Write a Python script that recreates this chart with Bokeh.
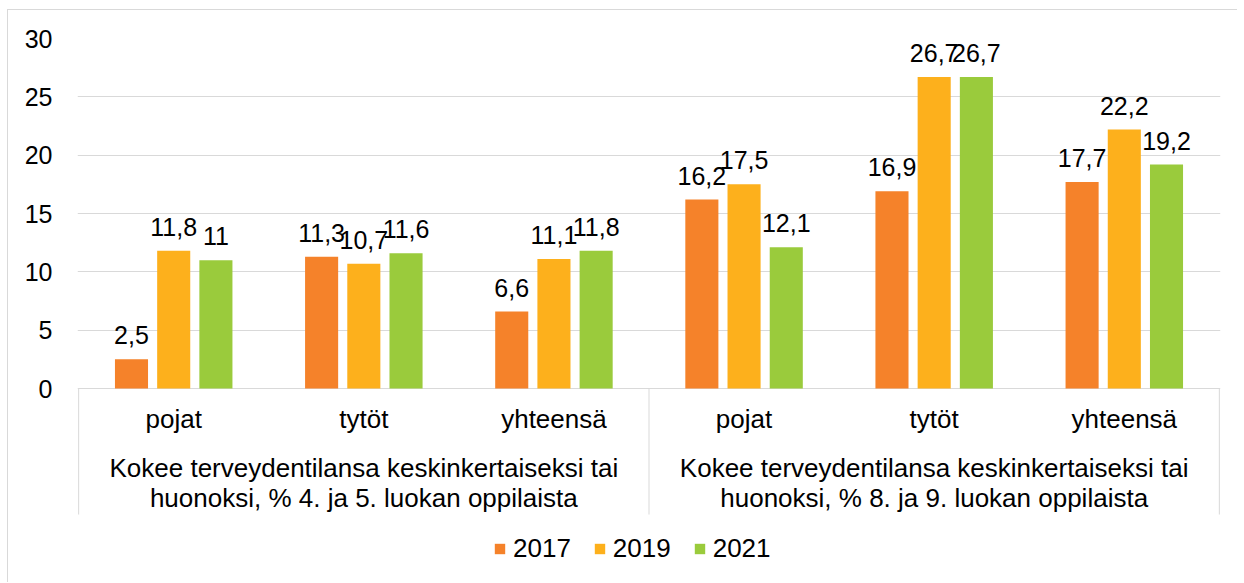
from bokeh.plotting import figure
from bokeh.models import (FactorRange, Range1d, FixedTicker, ColumnDataSource,
                          Legend, LegendItem)
from bokeh.transform import dodge
from bokeh.core.properties import value
from bokeh.embed import file_html
from bokeh.resources import INLINE

# ---------------- data ----------------
groups = ["4.-5. lk", "8.-9. lk"]
group_labels = [
    "Kokee terveydentilansa keskinkertaiseksi tai\nhuonoksi, % 4. ja 5. luokan oppilaista",
    "Kokee terveydentilansa keskinkertaiseksi tai\nhuonoksi, % 8. ja 9. luokan oppilaista",
]
subcats = ["pojat", "tytöt", "yhteensä"]
years = ["2017", "2019", "2021"]
v2017 = [2.5, 11.3, 6.6, 16.2, 16.9, 17.7]
v2019 = [11.8, 10.7, 11.1, 17.5, 26.7, 22.2]
v2021 = [11.0, 11.6, 11.8, 12.1, 26.7, 19.2]
y_ticks = [0, 5, 10, 15, 20, 25, 30]

# ---------------- style ----------------
colors = ["#F5822A", "#FDB01C", "#9ACB3C"]
FONT = "Liberation Sans"
FS_NUM = "25px"
FS_TXT = "26px"
GRID = "#d9d9d9"

def fmt(v):
    return f"{v:g}".replace(".", ",")

x_factors = [(g, s) for g in groups for s in subcats]

xr = FactorRange(factors=x_factors, factor_padding=0, group_padding=0,
                 subgroup_padding=0, range_padding=0.006,
                 range_padding_units="absolute")

p = figure(x_range=xr, y_range=Range1d(-16.71, 30), width=1230, height=573,
           output_backend="svg", toolbar_location=None, x_axis_location=None,
           min_border_left=69, min_border_top=28, min_border_right=18,
           min_border_bottom=0)
p.styles = {"margin-left": "7px", "margin-top": "9px",
            "border-top": "1px solid #d9d9d9", "border-left": "1px solid #d9d9d9"}

p.outline_line_color = None
p.xgrid.visible = False
p.ygrid.ticker = FixedTicker(ticks=y_ticks)
p.ygrid.grid_line_color = GRID
p.ygrid.grid_line_width = 1

ax = p.yaxis[0]
ax.ticker = FixedTicker(ticks=y_ticks)
ax.axis_line_color = None
ax.major_tick_line_color = None
ax.minor_tick_line_color = None
ax.major_tick_in = 0
ax.major_tick_out = 0
ax.major_label_standoff = 25
ax.major_label_text_font = FONT
ax.major_label_text_font_size = FS_NUM
ax.major_label_text_color = "black"

series = [v2017, v2019, v2021]
step = 0.222
bw = 0.174
renderers = []
for i, (yr, vals, c) in enumerate(zip(years, series, colors)):
    src = ColumnDataSource(dict(x=x_factors, top=vals, label=[fmt(v) for v in vals]))
    off = (i - 1) * step
    r = p.vbar(x=dodge("x", off, range=p.x_range), top="top", bottom=0, width=bw,
               source=src, fill_color=c, line_color=None)
    renderers.append(r)
    p.text(x=dodge("x", off, range=p.x_range), y="top", text="label", source=src,
           text_align="center", text_baseline="alphabetic", y_offset=-24,
           text_font=value(FONT), text_font_size=FS_NUM, text_color="black")

# category box separators
nsub = len(subcats)
sep_x = [k * nsub for k in range(len(groups) + 1)]
p.segment(x0=sep_x, y0=[0] * len(sep_x), x1=sep_x, y1=[-10.8] * len(sep_x),
          line_color=GRID, line_width=1)

# sub-category labels
p.text(x=x_factors, y=[-2.6] * len(x_factors), text=[s for g in groups for s in subcats],
       text_align="center", text_baseline="alphabetic",
       text_font=value(FONT), text_font_size=FS_TXT, text_color="black")

# group labels (two lines)
gx, gy, gt = [], [], []
for g, lab in zip(groups, group_labels):
    for j, line in enumerate(lab.split("\n")):
        gx.append(g)
        gy.append(-6.77 - j * 2.6)
        gt.append(line)
p.text(x=gx, y=gy, text=gt, text_align="center", text_baseline="alphabetic",
       text_font=value(FONT), text_font_size=FS_TXT, text_color="black")

legend = Legend(items=[LegendItem(label=yr, renderers=[r]) for yr, r in zip(years, renderers)],
                orientation="horizontal", location=(416, 19),
                label_text_font=FONT, label_text_font_size=FS_TXT, label_text_color="black",
                glyph_width=13, glyph_height=13, label_standoff=7, spacing=22,
                padding=0, margin=0, border_line_color=None, background_fill_alpha=0)
p.add_layout(legend)

open("out.html", "w").write(file_html(p, INLINE))
